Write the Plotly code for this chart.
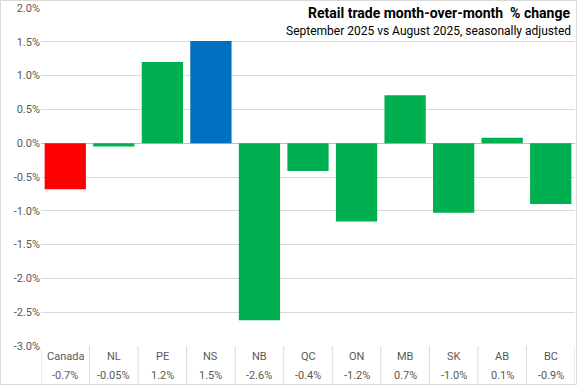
import plotly.graph_objects as go

categories = ["Canada", "NL", "PE", "NS", "NB", "QC", "ON", "MB", "SK", "AB", "BC"]
values = [-0.68, -0.05, 1.20, 1.51, -2.62, -0.41, -1.16, 0.71, -1.03, 0.08, -0.90]
value_labels = ["-0.7%", "-0.05%", "1.2%", "1.5%", "-2.6%", "-0.4%", "-1.2%", "0.7%", "-1.0%", "0.1%", "-0.9%"]
colors = ["#FF0000", "#00B050", "#00B050", "#0070C0", "#00B050", "#00B050",
          "#00B050", "#00B050", "#00B050", "#00B050", "#00B050"]
tick_vals = [-3.0, -2.5, -2.0, -1.5, -1.0, -0.5, 0.0, 0.5, 1.0, 1.5, 2.0]
tick_text = [f"{v:.1f}%" for v in tick_vals]

W, H = 577, 385
ml, mr, mt, mb = 41, 2, 8, 39
pw, ph = W - ml - mr, H - mt - mb

font = "Roboto, Arial, sans-serif"

fig = go.Figure(go.Bar(
    x=list(range(len(categories))), y=values, marker_color=colors,
    marker_line_width=0, width=0.85, hoverinfo="skip",
))

shapes = []
for i in range(len(categories) + 1):
    shapes.append(dict(type="line", xref="x", yref="paper", x0=i - 0.5, x1=i - 0.5,
                       y0=0, y1=-mb / ph, line=dict(color="#D9D9D9", width=1)))
shapes.append(dict(type="rect", xref="paper", yref="paper",
                   x0=-(ml - 0.5) / pw, x1=1 + (mr - 0.5) / pw,
                   y0=-(mb - 0.5) / ph, y1=1 + (mt - 0.5) / ph,
                   line=dict(color="#D9D9D9", width=1)))

annotations = []
for i, (c, v) in enumerate(zip(categories, value_labels)):
    annotations.append(dict(x=i, y=-10 / ph, xref="x", yref="paper", text=c, showarrow=False,
                            yanchor="middle", font=dict(size=11, color="#595959", family=font)))
    annotations.append(dict(x=i, y=-29 / ph, xref="x", yref="paper", text=v, showarrow=False,
                            yanchor="middle", font=dict(size=11, color="#595959", family=font)))
annotations.append(dict(x=1 + (-3) / pw, y=1 - 5 / ph, xref="paper", yref="paper",
                        text="<b>Retail trade month-over-month  % change</b>", showarrow=False,
                        xanchor="right", yanchor="middle",
                        font=dict(size=14, color="#000000", family=font)))
annotations.append(dict(x=1 + (-2) / pw, y=1 - 23 / ph, xref="paper", yref="paper",
                        text="September 2025 vs August 2025, seasonally adjusted", showarrow=False,
                        xanchor="right", yanchor="middle",
                        font=dict(size=12, color="#000000", family=font)))

fig.update_layout(
    width=W, height=H, margin=dict(l=ml, r=mr, t=mt, b=mb),
    paper_bgcolor="white", plot_bgcolor="white", showlegend=False,
    xaxis=dict(range=[-0.5, len(categories) - 0.5], showticklabels=False, showgrid=False,
               zeroline=False, ticks="", fixedrange=True),
    yaxis=dict(range=[-3.0, 2.0], tickvals=tick_vals, ticktext=tick_text, showgrid=True,
               gridcolor="#D9D9D9", gridwidth=1, zeroline=True, zerolinecolor="#BFBFBF",
               zerolinewidth=1, ticks="", tickfont=dict(size=11, color="#595959", family=font),
               fixedrange=True),
    shapes=shapes, annotations=annotations,
    font=dict(family=font),
)

fig.write_html("out.html", config={"displayModeBar": False},
               post_script="document.body.style.margin='0';document.body.style.overflow='hidden';")
